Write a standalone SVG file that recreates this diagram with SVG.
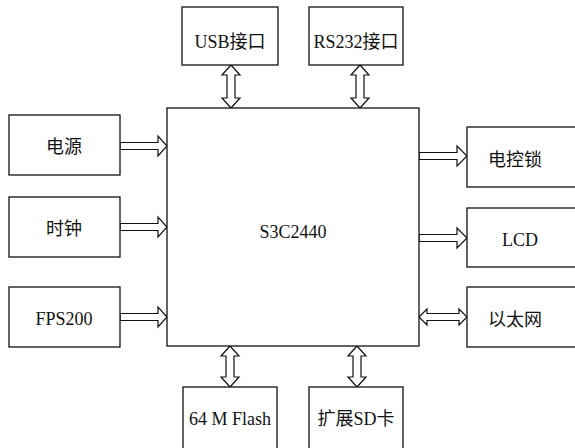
<svg xmlns="http://www.w3.org/2000/svg" width="575" height="448" viewBox="0 0 575 448">
<style>
.box{fill:#fff;stroke:#111;stroke-width:1.3}
.arr{fill:#fff;stroke:#111;stroke-width:1.2;stroke-linejoin:miter}
text{font-family:"Liberation Serif","Noto Sans CJK SC",serif;font-size:18px;fill:#111;text-anchor:middle;dominant-baseline:central}
</style>
<rect width="575" height="448" fill="#fff"/>
<g id="connectors">
<polygon class="arr" points="120,142.5 158,142.5 158,136 167,146 158,156 158,149.5 120,149.5"/>
<polygon class="arr" points="120,223.5 158,223.5 158,217 167,227 158,237 158,230.5 120,230.5"/>
<polygon class="arr" points="120,313.5 158,313.5 158,307 167,317 158,327 158,320.5 120,320.5"/>
<polygon class="arr" points="419,152.5 457,152.5 457,146 467,156 457,166 457,159.5 419,159.5"/>
<polygon class="arr" points="419,234.5 457,234.5 457,228 467,238 457,248 457,241.5 419,241.5"/>
<polygon class="arr" points="419,317 427,309 427,313.5 459,313.5 459,309 467,317 459,325 459,320.5 427,320.5 427,325"/>
<polygon class="arr" points="231,65 240,75 235,75 235,98 240,98 231,108 222,98 227,98 227,75 222,75"/>
<polygon class="arr" points="360,65 369,75 364,75 364,98 369,98 360,108 351,98 356,98 356,75 351,75"/>
<polygon class="arr" points="230,346 239,356 234,356 234,377 239,377 230,387 221,377 226,377 226,356 221,356"/>
<polygon class="arr" points="357,346 366,356 361,356 361,377 366,377 357,387 348,377 353,377 353,356 348,356"/>
</g>
<g id="cpu"><rect class="box" x="167" y="108" width="252" height="238"/><text x="293" y="232">S3C2440</text></g>
<g id="usb"><rect class="box" x="182" y="7" width="96" height="58"/><text x="230" y="42">USB接口</text></g>
<g id="rs232"><rect class="box" x="309" y="7" width="94" height="58"/><text x="356" y="42">RS232接口</text></g>
<g id="power"><rect class="box" x="9" y="115" width="111" height="60"/><text x="64" y="147">电源</text></g>
<g id="clock"><rect class="box" x="9" y="197" width="111" height="60"/><text x="64" y="229">时钟</text></g>
<g id="fps200"><rect class="box" x="9" y="287" width="111" height="60"/><text x="64" y="319">FPS200</text></g>
<g id="lock"><rect class="box" x="467" y="127" width="110" height="60"/><text x="515" y="160">电控锁</text></g>
<g id="lcd"><rect class="box" x="467" y="208" width="110" height="59"/><text x="520" y="240">LCD</text></g>
<g id="ethernet"><rect class="box" x="467" y="287" width="110" height="60"/><text x="515" y="320">以太网</text></g>
<g id="flash"><rect class="box" x="183" y="387" width="94" height="64"/><text x="230" y="419">64 M Flash</text></g>
<g id="sd"><rect class="box" x="309" y="387" width="94" height="64"/><text x="356" y="419">扩展SD卡</text></g>
</svg>
